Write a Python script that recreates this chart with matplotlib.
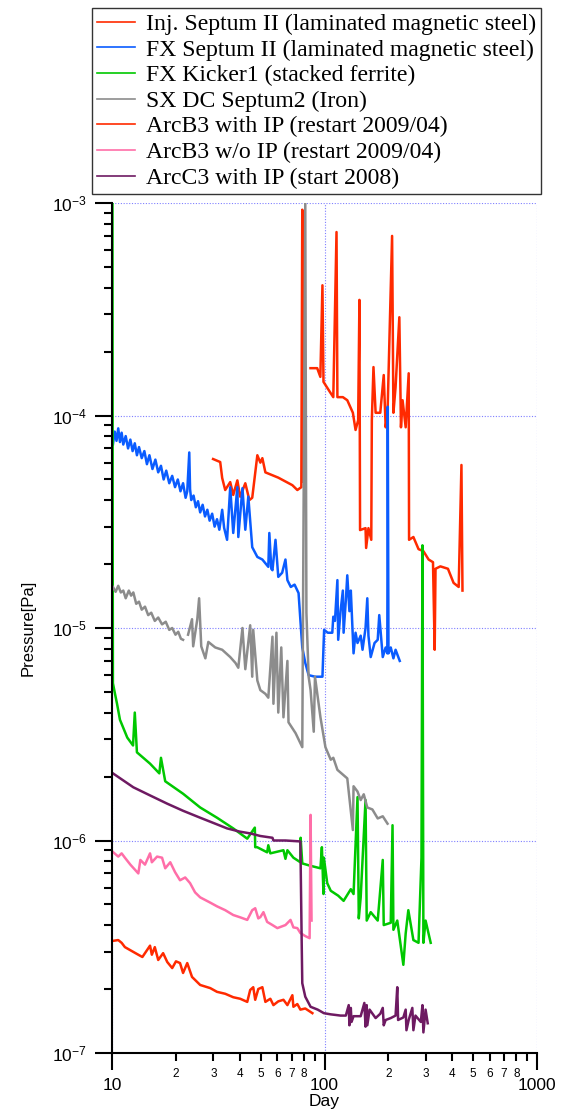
import numpy as np
import matplotlib
matplotlib.use("Agg")
import matplotlib.pyplot as plt

plt.rcParams['font.family'] = ['Liberation Sans', 'DejaVu Sans']
plt.rcParams['mathtext.fontset'] = 'custom'
plt.rcParams['mathtext.rm'] = 'Liberation Sans'
plt.rcParams['mathtext.it'] = 'Liberation Sans:italic'

nan = np.nan

# ---- data (day, pressure [Pa]) ----
inj_day = [29.9, 32.3, 33.0, 34.1, 36.0, 37.2, 38.9, 40.1, 42.4, 44.3, 45.7, 48.3, 49.9, 51.0, 52.7,
           60.6, 70.6, 74.5, 77.8, 78.6, 79.4, nan,
           85.9, 92.4, 95.6, 97.8, 98.9, 106.6, 110, 113.9, 115, 122, 128, 136, 140, 144, 146, 147,
           156, 157, 161, 166, 167, 170, 174, 183, 190, 194, 198, 208, 211, 216, 225, 229, 233, 241,
           249, 250, 262, 277, 292, 309, 324, 330, 333, 351, 381, 405, 428, 441, 446]
inj_p = [6.24e-5, 6.04e-5, 5.08e-5, 4.46e-5, 4.86e-5, 4.23e-5, 4.95e-5, 4.15e-5, 4.8e-5, 4.0e-5, 4.1e-5,
         6.5e-5, 6.0e-5, 6.3e-5, 5.4e-5, 5.1e-5, 4.7e-5, 4.46e-5, 4.6e-5, 9.3e-4, 4.9e-5, nan,
         1.67e-4, 1.67e-4, 1.52e-4, 4.1e-4, 1.44e-4, 1.28e-4, 1.22e-4, 7.3e-4, 1.22e-4, 1.22e-4, 1.18e-4,
         1.03e-4, 8.55e-5, 9.5e-5, 3.5e-4, 2.89e-5, 2.95e-5, 2.38e-5, 2.95e-5, 2.6e-5, 9.5e-5, 1.69e-4,
         1.03e-4, 1.03e-4, 1.55e-4, 8.8e-5, 1.03e-4, 7.0e-4, 1.03e-4, 1.36e-4, 2.9e-4, 8.8e-5, 1.18e-4,
         8.8e-5, 1.58e-4, 2.6e-5, 2.68e-5, 2.35e-5, 2.3e-5, 2.1e-5, 2.04e-5, 7.9e-6, 1.9e-5, 1.95e-5,
         1.9e-5, 1.63e-5, 1.56e-5, 5.85e-5, 1.5e-5]

fx_day = [10.1, 10.3, 10.5, 10.7, 10.9, 11.1, 11.3, 11.6, 11.9, 12.2, 12.5, 12.8, 13.1, 13.4, 13.8,
          14.2, 14.6, 15.0, 15.5, 16.0, 16.5, 17.0, 17.5, 18.0, 18.6, 19.2, 19.8, 20.4, 21.0, 21.6,
          22.2, 22.6, 23.1, 23.3, 23.6, 24.2, 24.8, 25.4, 26.0, 26.7, 27.4, 28.1, 28.8, 29.6, 30.4,
          31.2, 32.0, 33.0, 33.7, 34.8, 36.0, 37.2, 38.9, 39.3, 41.1, 42.4, 43.8, 45.7, 48.3, 51.0,
          54.4, 55.0, 56.2, 56.9, 58.8, 60.6, 63.2, 65.5, 66.9, 69.4, 72.3, 75.5, 77.0, 78.6, 81.2,
          84.2, 90.2, 97.8, 99.2, 99.6, 103.6, 108.8, 110, 112, 115, 116, 119, 122, 123, 126, 128,
          131, 133, 137, 140, 143, 148, 151, 156, 159, 161, 165, 172, 178, 181, 188, 194, 197.5,
          198.5, 200, 205, 211, 216, 226]
fx_p = [7.3e-5, 8.4e-5, 7.6e-5, 8.7e-5, 7.5e-5, 8.3e-5, 7.3e-5, 8.0e-5, 7.0e-5, 7.7e-5, 6.8e-5,
        7.4e-5, 6.5e-5, 7.1e-5, 6.3e-5, 6.8e-5, 5.9e-5, 6.5e-5, 5.6e-5, 6.2e-5, 5.4e-5, 5.8e-5,
        5.0e-5, 5.5e-5, 4.8e-5, 5.2e-5, 4.6e-5, 5.0e-5, 4.4e-5, 4.8e-5, 4.1e-5, 4.4e-5, 6.7e-5,
        4.5e-5, 4.0e-5, 4.2e-5, 3.7e-5, 3.95e-5, 3.5e-5, 3.8e-5, 3.35e-5, 3.6e-5, 3.2e-5, 3.45e-5,
        3.0e-5, 3.25e-5, 2.9e-5, 3.6e-5, 2.96e-5, 2.6e-5, 4.6e-5, 2.8e-5, 4.6e-5, 2.68e-5, 4.55e-5,
        2.9e-5, 4.15e-5, 2.4e-5, 2.16e-5, 2.1e-5, 1.94e-5, 2.8e-5, 1.9e-5, 1.87e-5, 2.6e-5, 1.74e-5,
        1.82e-5, 2.1e-5, 1.68e-5, 1.56e-5, 1.6e-5, 1.46e-5, 1.09e-5, 8.1e-6, 6.85e-6, 6.0e-6, 5.9e-6,
        5.9e-6, 8.8e-6, 9.8e-6, 9.5e-6, 9.5e-6, 1.13e-5, 1.08e-5, 1.68e-5, 8.8e-6, 1.2e-5, 1.5e-5,
        9.5e-6, 1.35e-5, 1.77e-5, 1.2e-5, 1.5e-5, 7.6e-6, 9.5e-6, 8.5e-6, 9.2e-6, 7.9e-6, 1.0e-5,
        1.38e-5, 9.2e-6, 7.3e-6, 8.5e-6, 8.8e-6, 1.15e-5, 7.3e-6, 8.1e-6, 7.6e-6, 1.1e-4, 7.6e-6,
        8.1e-6, 7.2e-6, 7.9e-6, 7.0e-6]

kick_day = [10.05, 10.08, 10.1, 10.33, 10.56, 10.9, 11.8, 12.56, 12.8, 13.1, 15.1, 16.7, 17.0, 17.8,
            21.6, 26.0, 31.2, 37.2, 43.3, 47.0, 47.2, 48.2, 53.7, 54.4, 55.6, 64.1, 65.5, 66.9, 71.4,
            77.0, 77.2, 78.6, 86.0, 95.7, 97.2, 98.9, 99.3, 103, 107, 116, 123, 133, 137, 143, 145,
            148, 156, 158, 165, 178, 188, 190, 205, 209, 211, 220, 235, 241, 248, 262, 277, 286, 289,
            292, 299, 316]
kick_p = [1.0e-3, 2.0e-5, 5.5e-6, 4.9e-6, 4.4e-6, 3.7e-6, 3.05e-6, 2.8e-6, 4.0e-6, 2.6e-6, 2.3e-6,
          2.07e-6, 2.45e-6, 1.9e-6, 1.66e-6, 1.43e-6, 1.28e-6, 1.14e-6, 1.02e-6, 1.15e-6, 9.3e-7,
          9.3e-7, 8.8e-7, 9.5e-7, 8.7e-7, 9.0e-7, 8.2e-7, 9.0e-7, 8.3e-7, 7.9e-7, 1.03e-6, 7.8e-7,
          7.6e-7, 7.4e-7, 9.3e-7, 5.6e-7, 8.3e-7, 6.3e-7, 5.8e-7, 5.5e-7, 5.2e-7, 5.9e-7, 5.6e-7,
          1.6e-6, 4.3e-7, 5.4e-7, 1.55e-6, 4.2e-7, 4.6e-7, 4.2e-7, 8.1e-7, 4.0e-7, 4.1e-7, 1.18e-6,
          3.8e-7, 4.2e-7, 2.6e-7, 3.65e-7, 4.7e-7, 3.4e-7, 3.3e-7, 8.3e-7, 2.45e-5, 3.3e-7, 4.2e-7,
          3.3e-7]

sx_day = [10.1, 10.4, 10.7, 11.0, 11.3, 11.6, 12.0, 12.3, 12.6, 13.0, 13.4, 13.8, 14.3, 14.8, 15.3,
          15.9, 16.5, 17.2, 17.9, 18.6, 19.2, 19.9, 20.5, 21.1, 21.6, nan,
          22.8, 23.8, 24.1, 25.2, 25.7, 26.3, 27.5, 28.4, 30.6, 33.0, 36.0, 38.1, 39.3, 41.1, 42.4,
          44.7, 45.7, 46.2, 48.3, 49.9, 52.7, 54.4, 56.9, 57.5, 59.4, 60.6, 62.6, 64.1, 66.9, 67.7,
          73.1, 78.6, 81.2, 82.2, 84.2, 86.0, 89.0, 90.2, 95.7, 101, 107, 110, 115, 128, 136, 137,
          143, 148, 153, 159, 168, 178, 188, 198]
sx_p = [1.56e-5, 1.48e-5, 1.58e-5, 1.47e-5, 1.5e-5, 1.38e-5, 1.5e-5, 1.42e-5, 1.47e-5, 1.3e-5,
        1.33e-5, 1.22e-5, 1.26e-5, 1.15e-5, 1.18e-5, 1.08e-5, 1.12e-5, 1.04e-5, 1.07e-5, 9.8e-6,
        1.0e-5, 9.3e-6, 9.6e-6, 8.9e-6, 8.8e-6, nan,
        9.3e-6, 1.1e-5, 8.2e-6, 1.1e-5, 1.38e-5, 8.2e-6, 7.2e-6, 8.6e-6, 8.1e-6, 7.9e-6, 7.3e-6,
        6.85e-6, 6.5e-6, 1.0e-5, 6.4e-6, 1.03e-5, 5.9e-6, 9.8e-6, 5.66e-6, 5.1e-6, 4.9e-6, 4.7e-6,
        9.1e-6, 4.4e-6, 9.5e-6, 4.0e-6, 8.1e-6, 3.8e-6, 7.0e-6, 3.6e-6, 3.2e-6, 2.75e-6, 1.0e-3,
        1.18e-5, 5.9e-6, 5.1e-6, 3.25e-6, 5.9e-6, 3.8e-6, 2.75e-6, 2.4e-6, 2.45e-6, 2.15e-6,
        1.96e-6, 1.12e-6, 1.8e-6, 1.7e-6, 1.55e-6, 1.65e-6, 1.43e-6, 1.4e-6, 1.27e-6, 1.3e-6, 1.2e-6]

arcb_ip_day = [10.1, 10.7, 11.1, 11.5, 12.6, 13.3, 13.9, 15.1, 15.4, 15.9, 16.5, 17.4, 18.2, 19.2,
               20.0, 20.9, 21.6, 22.6, 23.8, 26.0, 29.0, 31.2, 34.1, 37.2, 40.1, 43.3, 44.7, 46.2,
               47.2, 48.8, 51.0, 52.7, 55.6, 57.5, 60.6, 64.1, 66.9, 70.6, 71.4, 74.5, 77.0, 81.2, 87.7]
arcb_ip_p = [3.37e-7, 3.4e-7, 3.3e-7, 3.15e-7, 2.99e-7, 2.9e-7, 2.83e-7, 3.2e-7, 2.9e-7, 3.15e-7,
             2.74e-7, 2.95e-7, 2.68e-7, 2.51e-7, 2.7e-7, 2.65e-7, 2.38e-7, 2.65e-7, 2.28e-7, 2.09e-7,
             2.02e-7, 1.94e-7, 1.9e-7, 1.83e-7, 1.8e-7, 1.74e-7, 1.98e-7, 2.04e-7, 1.78e-7, 2.0e-7,
             2.04e-7, 1.74e-7, 1.8e-7, 1.68e-7, 1.75e-7, 1.78e-7, 1.68e-7, 1.87e-7, 1.65e-7, 1.7e-7,
             1.6e-7, 1.62e-7, 1.54e-7]

arcb_noip_day = [10.1, 10.7, 11.1, 11.5, 12.2, 12.6, 13.3, 13.6, 14.3, 15.1, 15.4, 16.3, 17.2, 17.8,
                 18.8, 19.8, 20.9, 22.1, 23.3, 24.6, 26.0, 29.0, 31.2, 34.1, 37.2, 40.1, 43.3, 45.7,
                 47.2, 48.8, 49.9, 51.6, 53.7, 56.9, 60.0, 65.5, 69.2, 71.4, 74.5, 77.0, 81.2, 85.1,
                 86.0, 86.9]
arcb_noip_p = [8.83e-7, 8.4e-7, 8.7e-7, 8.3e-7, 7.7e-7, 7.43e-7, 7.0e-7, 8.1e-7, 7.7e-7, 8.7e-7,
               7.9e-7, 8.4e-7, 8.3e-7, 7.4e-7, 7.9e-7, 7.1e-7, 6.5e-7, 6.7e-7, 6.3e-7, 5.7e-7, 5.4e-7,
               5.1e-7, 4.9e-7, 4.7e-7, 4.46e-7, 4.35e-7, 4.23e-7, 4.7e-7, 4.8e-7, 4.3e-7, 4.36e-7,
               4.6e-7, 4.14e-7, 4.0e-7, 3.87e-7, 4.0e-7, 4.23e-7, 3.9e-7, 3.87e-7, 3.67e-7, 3.55e-7,
               3.47e-7, 1.32e-6, 4.2e-7]

arcc_day = [10.1, 12.6, 15.1, 18.2, 21.6, 26.0, 30.6, 34.8, 40.1, 44.7, 49.9, 56.9, 57.5, 65.5, 77.0,
            78.1, 78.6, 81.2, 86.0, 92.9, 99.3, 107, 113, 119, 126, 130, 131, 133, 134, 137, 148, 154,
            156, 158, 159, 163, 174, 183, 188, 190, 194, 205, 216, 220, 222, 235, 241, 243, 249, 259,
            262, 268, 284, 289, 292, 299, 306]
arcc_p = [2.07e-6, 1.78e-6, 1.63e-6, 1.49e-6, 1.38e-6, 1.28e-6, 1.2e-6, 1.14e-6, 1.1e-6, 1.08e-6,
          1.05e-6, 1.03e-6, 1.0e-6, 1.0e-6, 9.9e-7, 3.33e-7, 2.13e-7, 1.84e-7, 1.65e-7, 1.6e-7,
          1.54e-7, 1.52e-7, 1.51e-7, 1.5e-7, 1.5e-7, 1.68e-7, 1.35e-7, 1.63e-7, 1.4e-7, 1.49e-7,
          1.49e-7, 1.72e-7, 1.33e-7, 1.68e-7, 1.35e-7, 1.6e-7, 1.46e-7, 1.53e-7, 1.63e-7, 1.35e-7,
          1.43e-7, 1.46e-7, 1.5e-7, 2.04e-7, 1.43e-7, 1.47e-7, 1.6e-7, 1.28e-7, 1.43e-7, 1.63e-7,
          1.28e-7, 1.5e-7, 1.4e-7, 1.68e-7, 1.25e-7, 1.6e-7, 1.38e-7]

series = [
    ("Inj. Septum II (laminated magnetic steel)", inj_day, inj_p, "#ff2a00"),
    ("FX Septum II (laminated magnetic steel)", fx_day, fx_p, "#0a5cff"),
    ("FX Kicker1 (stacked ferrite)", kick_day, kick_p, "#00c800"),
    ("SX DC Septum2 (Iron)", sx_day, sx_p, "#8c8c8c"),
    ("ArcB3 with IP (restart 2009/04)", arcb_ip_day, arcb_ip_p, "#ff2a00"),
    ("ArcB3 w/o IP (restart 2009/04)", arcb_noip_day, arcb_noip_p, "#ff6ea8"),
    ("ArcC3 with IP (start 2008)", arcc_day, arcc_p, "#6e1a62"),
]

x_major = [10, 100, 1000]
x_major_labels = ["10", "100", "1000"]
x_minor = [20, 30, 40, 50, 60, 70, 80, 90, 200, 300, 400, 500, 600, 700, 800, 900]
x_minor_labels = ["2", "3", "4", "5", "6", "7", "8", "", "2", "3", "4", "5", "6", "7", "8", ""]
y_major = [1e-7, 1e-6, 1e-5, 1e-4, 1e-3]
y_major_labels = [r"$10^{-7}$", r"$10^{-6}$", r"$10^{-5}$", r"$10^{-4}$", r"$10^{-3}$"]

fig = plt.figure(figsize=(5.63, 11.11), dpi=100)
ax = fig.add_axes([112/563, 1 - 1053/1111, 425/563, 850/1111])

for label, d, p, c in series:
    ax.plot(d, p, color=c, lw=1.8, label=label, solid_joinstyle='round')

ax.set_xscale('log')
ax.set_yscale('log')
ax.set_xlim(10, 1000)
ax.set_ylim(1e-7, 1e-3)

ax.set_xticks(x_major)
ax.set_xticklabels(x_major_labels, fontsize=12.5)
ax.set_xticks(x_minor, minor=True)
ax.set_xticklabels(x_minor_labels, minor=True, fontsize=8.5)
ax.set_yticks(y_major)
ax.set_yticklabels(y_major_labels, fontsize=12.5)
ax.yaxis.set_minor_locator(matplotlib.ticker.LogLocator(base=10, subs=np.arange(2, 10)))
ax.yaxis.set_minor_formatter(matplotlib.ticker.NullFormatter())

ax.tick_params(axis='x', which='major', length=12, width=1.5, pad=6, direction='out')
ax.tick_params(axis='x', which='minor', length=6, width=1.5, pad=5, direction='out')
ax.tick_params(axis='y', which='major', length=12, width=1.5, pad=6, direction='out')
ax.tick_params(axis='y', which='minor', length=6, width=1.5, direction='out')

for s in ['top', 'right']:
    ax.spines[s].set_visible(False)
for s in ['left', 'bottom']:
    ax.spines[s].set_linewidth(1.5)

ax.grid(True, which='major', color='#7f7fff', linestyle=(0, (1, 1.5)), linewidth=0.8)
ax.grid(False, which='minor')

ax.set_xlabel("Day", fontsize=12.5, labelpad=1)
ax.set_ylabel("Pressure[Pa]", fontsize=12, labelpad=12)

leg = fig.legend(loc='upper left', bbox_to_anchor=(92/563, 1 - 8/1111),
                 prop={'family': 'Liberation Serif', 'size': 17.1},
                 frameon=True, fancybox=False, borderpad=0.22, labelspacing=0.17,
                 handlelength=1.6, handletextpad=0.45, borderaxespad=0)
leg.get_frame().set_edgecolor('black')
leg.get_frame().set_linewidth(1.0)
for h in leg.get_lines():
    h.set_linewidth(1.2)

fig.savefig("out.png", dpi=100)
